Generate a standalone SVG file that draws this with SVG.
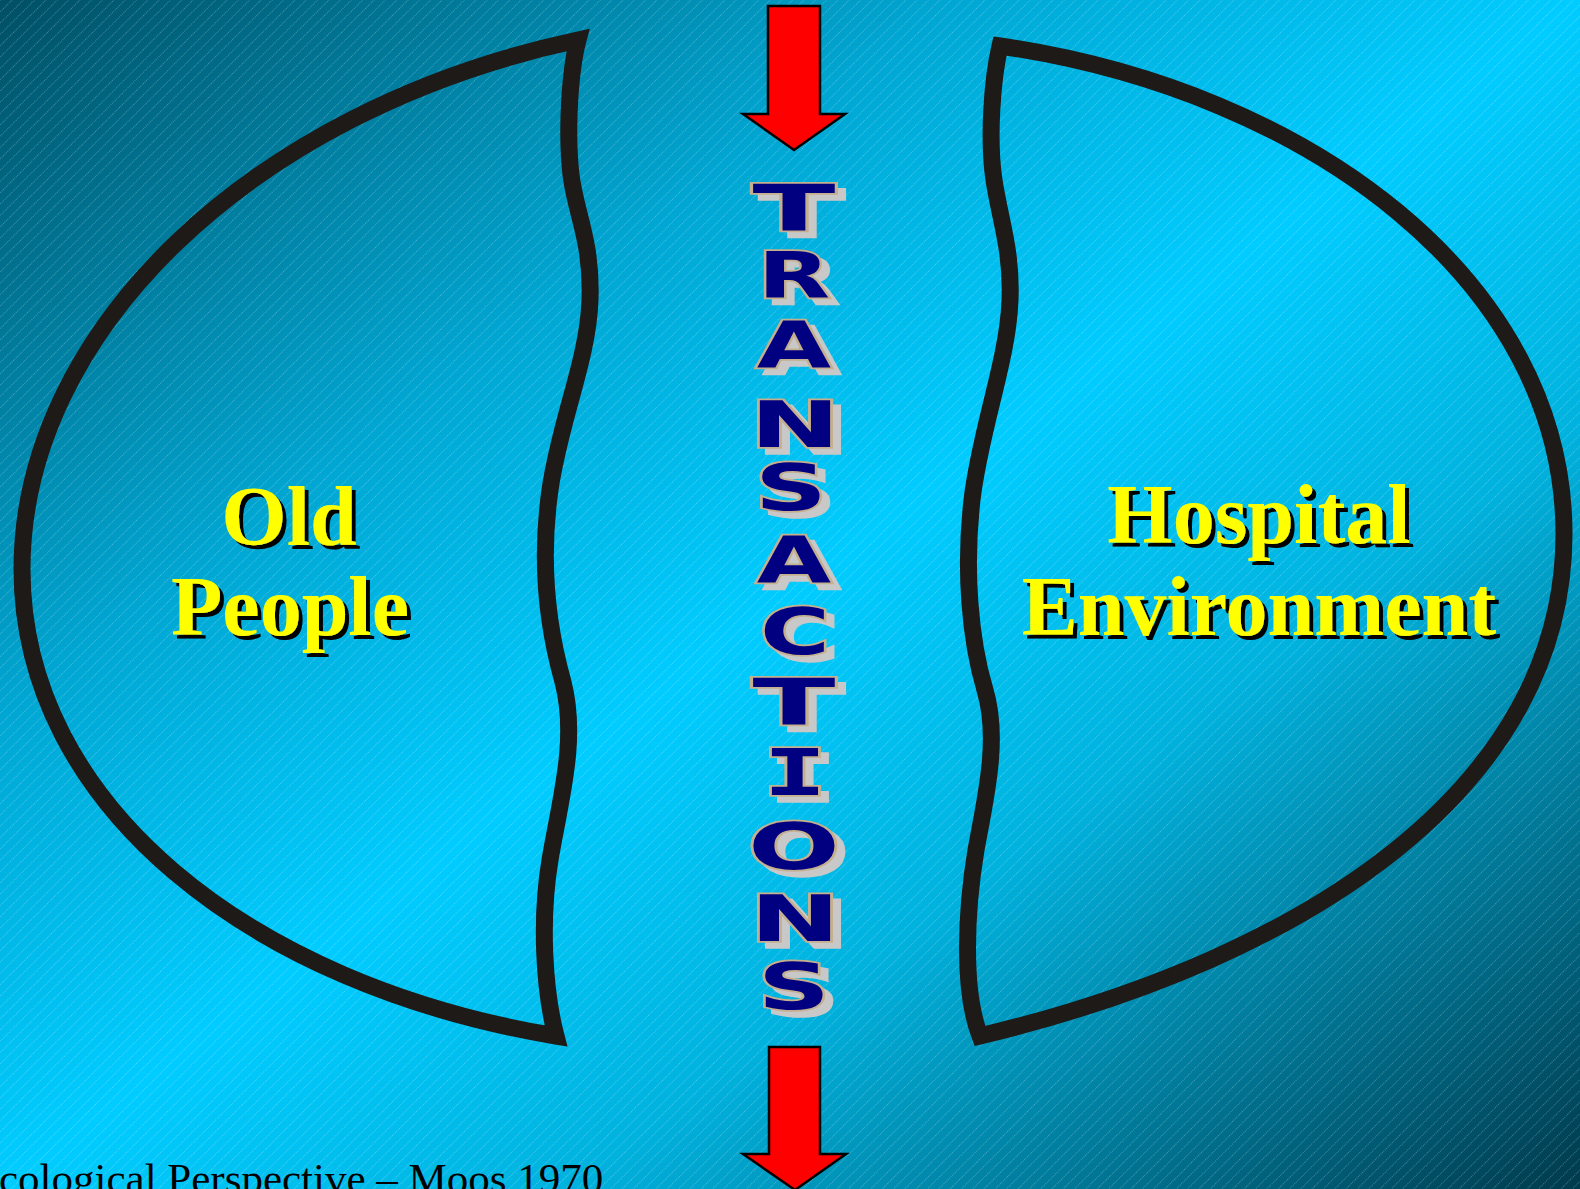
<svg xmlns="http://www.w3.org/2000/svg" width="1580" height="1189" viewBox="0 0 1580 1189">
  <defs>
    <linearGradient id="bg" x1="0" y1="0" x2="1" y2="1">
      <stop offset="0" stop-color="#004f64"/>
      <stop offset="0.3" stop-color="#00a6d2"/>
      <stop offset="0.5" stop-color="#00ccff"/>
      <stop offset="0.68" stop-color="#00b2de"/>
      <stop offset="1" stop-color="#003a4c"/>
    </linearGradient>
    <pattern id="hatch" width="8" height="8" patternUnits="userSpaceOnUse" patternTransform="rotate(-45)">
      <line x1="0" y1="0.5" x2="8" y2="0.5" stroke="#ffffff" stroke-opacity="0.35" stroke-width="0.8" stroke-dasharray="1 1"/>
    </pattern>
    <filter id="blackShadow" x="-10%" y="-10%" width="120%" height="130%">
      <feFlood flood-color="#000000" result="c"/>
      <feComposite in="c" in2="SourceAlpha" operator="in" result="s"/>
      <feOffset in="s" dx="4" dy="4" result="o"/>
      <feMerge><feMergeNode in="o"/><feMergeNode in="SourceGraphic"/></feMerge>
    </filter>
    <filter id="grayShadow" x="-20%" y="-20%" width="140%" height="140%">
      <feFlood flood-color="#c8c8c8" result="c"/>
      <feComposite in="c" in2="SourceAlpha" operator="in" result="s"/>
      <feOffset in="s" dx="8" dy="6" result="o"/>
      <feMerge><feMergeNode in="o"/><feMergeNode in="SourceGraphic"/></feMerge>
    </filter>
  </defs>
  <style>
    .blob { fill: none; stroke: #1e1a17; stroke-width: 17; stroke-linejoin: miter; stroke-miterlimit: 4; }
    .label { font-family: "Liberation Serif", "Times New Roman", serif; font-weight: bold; font-size: 84px; fill: #ffff00; text-anchor: middle; }
    .arrow { fill: #ff0000; stroke: #000000; stroke-width: 2.5; stroke-linejoin: miter; }
    .ltr { font-family: "DejaVu Sans", "Verdana", sans-serif; font-weight: bold; font-size: 64px; fill: #000080; stroke: #c4b08e; stroke-width: 3.5; paint-order: stroke; text-anchor: middle; }
    .mono { font-family: "DejaVu Sans Mono", monospace; }
    .caption { font-family: "Liberation Serif", "Times New Roman", serif; font-size: 43px; fill: #000000; }
  </style>

  <rect x="0" y="0" width="1580" height="1189" fill="url(#bg)"/>
  <rect x="0" y="0" width="1580" height="1189" fill="url(#hatch)"/>

  <g id="old-people">
    <path class="blob" d="M578,40 C570,70 566,130 571,175 C576,215 592,240 590,300 C588,360 560,420 550,490 C540,560 547,625 563,682 C578,740 560,800 550,860 C540,920 544,990 556,1036 C250,985 22,805 22,569 C22,333 250,110 578,40 Z"/>
    <g filter="url(#blackShadow)">
      <text class="label" x="289" y="545">Old</text>
      <text class="label" x="290" y="635">People</text>
    </g>
  </g>

  <g id="hospital-environment">
    <path class="blob" d="M1000,46 C992,80 988,140 994,180 C1000,220 1012,250 1010,300 C1008,360 980,430 972,500 C964,570 970,640 985,690 C1000,740 985,800 976,850 C966,910 962,990 980,1036 C1310,957 1564,786 1564,534 C1564,282 1310,91 1000,46 Z"/>
    <g filter="url(#blackShadow)">
      <text class="label" x="1259" y="543">Hospital</text>
      <text class="label" x="1259" y="635">Environment</text>
    </g>
  </g>

  <g id="transactions">
    <g filter="url(#grayShadow)">
      <text class="ltr" transform="translate(794,231) scale(1.9,1)">T</text>
      <text class="ltr" transform="translate(794,298) scale(1.47,1)">R</text>
      <text class="ltr" transform="translate(794,368) scale(1.5,1)">A</text>
      <text class="ltr" transform="translate(795,447) scale(1.68,1)">N</text>
      <text class="ltr" transform="translate(791,510) scale(1.56,1)">S</text>
      <text class="ltr" transform="translate(794,583) scale(1.5,1)">A</text>
      <text class="ltr" transform="translate(795,654) scale(1.49,1)">C</text>
      <text class="ltr" transform="translate(794,725) scale(1.9,1)">T</text>
      <text class="ltr mono" transform="translate(795,795) scale(1.66,1)">I</text>
      <text class="ltr" transform="translate(794,869) scale(1.69,1)">O</text>
      <text class="ltr" transform="translate(795,941) scale(1.68,1)">N</text>
      <text class="ltr" transform="translate(794,1009) scale(1.56,1)">S</text>
    </g>
  </g>

  <g id="connectors">
    <polygon class="arrow" points="768,6 820,6 820,114 845,114 794,150 743,114 768,114"/>
    <polygon class="arrow" points="769,1047 820,1047 820,1154 846,1154 795,1190 743,1154 769,1154"/>
  </g>

  <text class="caption" x="-1" y="1193">cological Perspective – Moos 1970</text>
</svg>
